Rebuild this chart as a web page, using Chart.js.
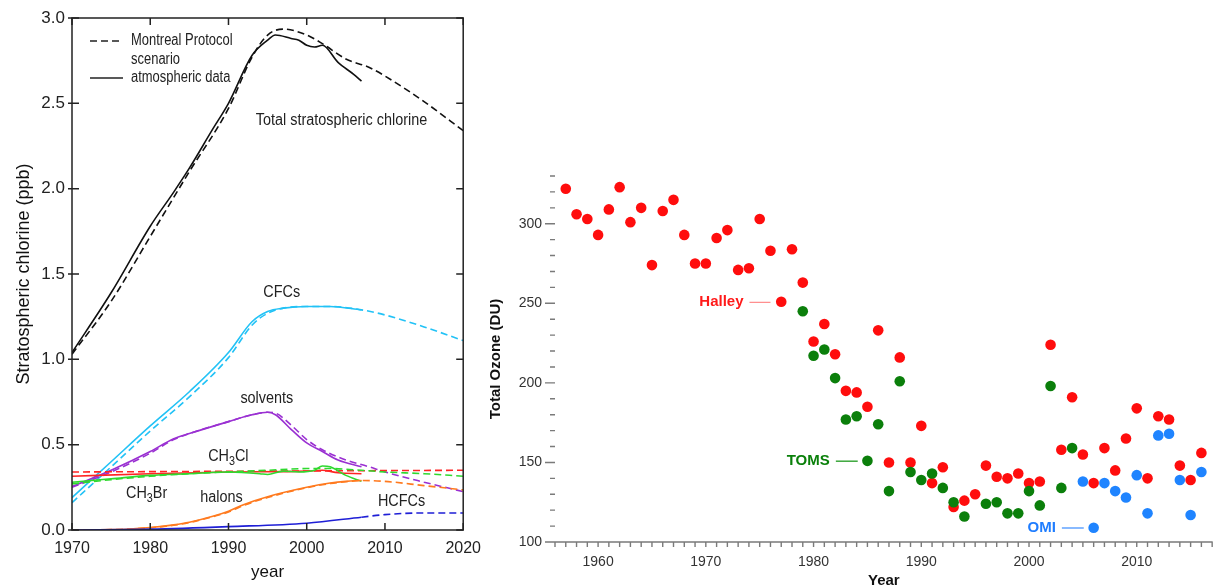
<!DOCTYPE html>
<html lang="en">
<head>
  <meta charset="UTF-8" />
  <title>Stratospheric chlorine and Antarctic ozone</title>
  <script src="https://cdn.jsdelivr.net/npm/chart.js"></script>
  <style>
    body {
      margin: 0;
      background: #ffffff;
      width: 1218px;
      height: 585px;
      overflow: hidden;
      position: relative;
    }
    #chlorine {
      position: absolute;
      left: 0;
      top: 0;
    }
    #ozone {
      position: absolute;
      left: 490px;
      top: 0;
    }
  </style>
</head>
<body>
  <canvas id="chlorine" width="490" height="585"></canvas>
  <canvas id="ozone" width="728" height="585"></canvas>

  <script>
    // ---- left panel: stratospheric chlorine (ppb), [year, value] ----
    const totalScenario = [[1970, 1.03], [1975, 1.34], [1980, 1.72], [1985, 2.10], [1990, 2.47], [1993, 2.77],
      [1995, 2.90], [1997, 2.935], [2000, 2.90], [2002, 2.85], [2005, 2.76], [2008, 2.71], [2010, 2.66],
      [2015, 2.51], [2020, 2.34]];
    const totalObserved = [[1970, 1.04], [1975, 1.39], [1980, 1.78], [1983, 1.98], [1985, 2.12], [1988, 2.35],
      [1990, 2.50], [1993, 2.78], [1995, 2.87], [1996, 2.90], [1998, 2.88], [1999, 2.87], [2000, 2.84],
      [2001, 2.83], [2002, 2.84], [2004, 2.74], [2006, 2.67], [2007, 2.63]];
    const cfcScenario = [[1970, 0.16], [1975, 0.37], [1980, 0.58], [1985, 0.78], [1990, 1.01], [1993, 1.20],
      [1995, 1.27], [1997, 1.30], [2000, 1.31], [2003, 1.31], [2007, 1.29], [2010, 1.26], [2015, 1.19], [2020, 1.11]];
    const cfcObserved = [[1970, 0.19], [1975, 0.40], [1980, 0.61], [1985, 0.81], [1990, 1.04], [1993, 1.22],
      [1995, 1.28], [1997, 1.30], [2000, 1.31], [2003, 1.31], [2007, 1.29]];
    const solventScenario = [[1970, 0.25], [1975, 0.34], [1980, 0.45], [1983, 0.53], [1985, 0.565], [1990, 0.635],
      [1993, 0.675], [1995, 0.69], [1996, 0.685], [1998, 0.615], [2000, 0.53], [2002, 0.47], [2005, 0.41],
      [2008, 0.37], [2010, 0.34], [2015, 0.28], [2020, 0.225]];
    const solventObserved = [[1970, 0.255], [1975, 0.35], [1980, 0.46], [1983, 0.535], [1985, 0.565], [1990, 0.635],
      [1993, 0.675], [1995, 0.69], [1996, 0.675], [1998, 0.59], [2000, 0.51], [2002, 0.46], [2004, 0.41], [2007, 0.37]];
    const ch3clScenario = [[1970, 0.34], [2020, 0.35]];
    const ch3clObserved = [[1970, 0.315], [1980, 0.33], [1990, 0.34], [2000, 0.345], [2002, 0.35], [2004, 0.335], [2007, 0.33]];
    const ch3brScenario = [[1970, 0.27], [1975, 0.295], [1980, 0.315], [1985, 0.33], [1990, 0.34], [1995, 0.35],
      [2000, 0.36], [2003, 0.36], [2007, 0.35], [2010, 0.34], [2015, 0.33], [2020, 0.315]];
    const ch3brObserved = [[1970, 0.28], [1975, 0.30], [1980, 0.32], [1985, 0.33], [1990, 0.34], [1994, 0.33],
      [1995, 0.325], [1997, 0.345], [1999, 0.34], [2001, 0.35], [2002, 0.375], [2003, 0.37], [2005, 0.32], [2007, 0.285]];
    const halonScenario = [[1970, 0], [1975, 0.002], [1980, 0.013], [1983, 0.028], [1985, 0.043], [1988, 0.078],
      [1990, 0.105], [1992, 0.145], [1995, 0.19], [2000, 0.248], [2003, 0.272], [2005, 0.283], [2007, 0.29],
      [2010, 0.285], [2015, 0.26], [2020, 0.235]];
    const halonObserved = [[1970, 0], [1975, 0.002], [1980, 0.015], [1983, 0.03], [1985, 0.045], [1988, 0.08],
      [1990, 0.11], [1992, 0.15], [1995, 0.195], [2000, 0.25], [2003, 0.275], [2005, 0.285], [2007, 0.29]];
    const hcfcScenario = [[2007, 0.075], [2010, 0.09], [2015, 0.10], [2020, 0.10]];
    const hcfcObserved = [[1970, 0], [1980, 0.005], [1990, 0.02], [2000, 0.04], [2007, 0.075]];

    const chlorineYearTicks = [1970, 1980, 1990, 2000, 2010, 2020];
    const chlorineValueTicks = [0, 0.5, 1.0, 1.5, 2.0, 2.5, 3.0];

    // ---- right panel: Antarctic October total ozone (DU) ----
    const halleyYears = [1957, 1958, 1959, 1960, 1961, 1962, 1963, 1964, 1965, 1966, 1967, 1968, 1969, 1970,
      1971, 1972, 1973, 1974, 1975, 1976, 1977, 1978, 1979, 1980, 1981, 1982, 1983, 1984, 1985, 1986, 1987,
      1988, 1989, 1990, 1991, 1992, 1993, 1994, 1995, 1996, 1997, 1998, 1999, 2000, 2001, 2002, 2003, 2004,
      2005, 2006, 2007, 2008, 2009, 2010, 2011, 2012, 2013, 2014, 2015, 2016];
    const halleyOzone = [322, 306, 303, 293, 309, 323, 301, 310, 274, 308, 315, 293, 275, 275,
      291, 296, 271, 272, 303, 283, 251, 284, 263, 226, 237, 218, 195, 194, 185, 233, 150,
      216, 150, 173, 137, 147, 122, 126, 130, 148, 141, 140, 143, 137, 138, 224, 158, 191,
      155, 137, 159, 145, 165, 184, 140, 179, 177, 148, 139, 156];
    const tomsYears = [1979, 1980, 1981, 1982, 1983, 1984, 1985, 1986, 1987, 1988, 1989, 1990, 1991, 1992,
      1993, 1994, 1996, 1997, 1998, 1999, 2000, 2001, 2002, 2003, 2004];
    const tomsOzone = [245, 217, 221, 203, 177, 179, 151, 174, 132, 201, 144, 139, 143, 134,
      125, 116, 124, 125, 118, 118, 132, 123, 198, 134, 159];
    const omiYears = [2005, 2006, 2007, 2008, 2009, 2010, 2011, 2012, 2013, 2014, 2015, 2016];
    const omiOzone = [138, 109, 137, 132, 128, 142, 118, 167, 168, 139, 117, 144];

    const ozoneMajorTicks = [100, 150, 200, 250, 300];
    const ozoneYearTicks = [1960, 1970, 1980, 1990, 2000, 2010];

    const sans = '"Liberation Sans", Arial, sans-serif';

    const pts = arr => arr.map(p => ({ x: p[0], y: p[1] }));

    function series(data, color, dashed, width) {
      return {
        data: pts(data),
        borderColor: color,
        borderWidth: width || 1.6,
        borderDash: dashed ? [7, 4] : [],
        pointRadius: 0,
        fill: false,
        cubicInterpolationMode: "monotone"
      };
    }

    // text labels placed in data units on the chlorine chart
    const chlorineLabels = [
      { parts: ["Total stratospheric chlorine"], x: 1993.5, y: 2.40, align: "left" },
      { parts: ["CFCs"], x: 1996.8, y: 1.39, align: "center" },
      { parts: ["solvents"], x: 1994.9, y: 0.77, align: "center" },
      { parts: ["CH", "3", "Cl"], x: 1987.4, y: 0.43, align: "left" },
      { parts: ["CH", "3", "Br"], x: 1976.9, y: 0.215, align: "left" },
      { parts: ["halons"], x: 1986.4, y: 0.19, align: "left" },
      { parts: ["HCFCs"], x: 2009.1, y: 0.165, align: "left" }
    ];

    // the source figure uses a condensed face, so squeeze the text horizontally
    function drawParts(ctx, parts, px, py, align, squeeze) {
      const big = "16px " + sans, small = "12px " + sans;
      let w = 0;
      parts.forEach((t, i) => { ctx.font = i % 2 ? small : big; w += ctx.measureText(t).width; });
      ctx.save();
      ctx.translate(px, py);
      ctx.scale(squeeze, 1);
      let cx = align === "center" ? -w / 2 : 0;
      ctx.textAlign = "left";
      ctx.textBaseline = "middle";
      parts.forEach((t, i) => {
        ctx.font = i % 2 ? small : big;
        ctx.fillText(t, cx, i % 2 ? 5 : 0);
        cx += ctx.measureText(t).width;
      });
      ctx.restore();
    }

    const chlorineFrame = {
      id: "chlorineFrame",
      afterDraw(chart) {
        const { ctx, chartArea: a, scales: { x, y } } = chart;
        ctx.save();
        ctx.strokeStyle = "#222";
        ctx.lineWidth = 1.5;
        ctx.strokeRect(a.left, a.top, a.right - a.left, a.bottom - a.top);
        ctx.beginPath();
        chlorineYearTicks.forEach(v => {
          const px = x.getPixelForValue(v);
          ctx.moveTo(px, a.bottom); ctx.lineTo(px, a.bottom - 7);
          ctx.moveTo(px, a.top); ctx.lineTo(px, a.top + 7);
        });
        chlorineValueTicks.forEach(v => {
          const py = y.getPixelForValue(v);
          ctx.moveTo(a.left - 4, py); ctx.lineTo(a.left + 7, py);
          ctx.moveTo(a.right, py); ctx.lineTo(a.right - 7, py);
        });
        ctx.stroke();

        // legend
        ctx.lineWidth = 1.6;
        ctx.setLineDash([7, 4]);
        ctx.beginPath();
        ctx.moveTo(a.left + 18, a.top + 23); ctx.lineTo(a.left + 51, a.top + 23);
        ctx.stroke();
        ctx.setLineDash([]);
        ctx.beginPath();
        ctx.moveTo(a.left + 18, a.top + 60); ctx.lineTo(a.left + 51, a.top + 60);
        ctx.stroke();
        ctx.fillStyle = "#222";
        drawParts(ctx, ["Montreal Protocol"], a.left + 59, a.top + 23, "left", 0.81);
        drawParts(ctx, ["scenario"], a.left + 59, a.top + 42, "left", 0.81);
        drawParts(ctx, ["atmospheric data"], a.left + 59, a.top + 60, "left", 0.81);

        chlorineLabels.forEach(l => {
          drawParts(ctx, l.parts, x.getPixelForValue(l.x), y.getPixelForValue(l.y), l.align, 0.9);
        });
        ctx.restore();
      }
    };

    new Chart(document.getElementById("chlorine"), {
      type: "line",
      data: {
        datasets: [
          series(hcfcScenario, "#1f1fd6", true),
          series(hcfcObserved, "#1f1fd6", false),
          series(halonScenario, "#ff7a1f", true),
          series(halonObserved, "#ff7a1f", false),
          series(ch3brScenario, "#2fd92f", true),
          series(ch3brObserved, "#2fd92f", false),
          series(ch3clScenario, "#ff2424", true),
          series(ch3clObserved, "#ff2424", false),
          series(solventScenario, "#9a30d2", true),
          series(solventObserved, "#9a30d2", false),
          series(cfcScenario, "#22c2f6", true),
          series(cfcObserved, "#22c2f6", false),
          series(totalScenario, "#111", true),
          series(totalObserved, "#111", false)
        ]
      },
      options: {
        responsive: false,
        animation: false,
        devicePixelRatio: 1,
        events: [],
        layout: { padding: { top: 18, right: 22, left: 0, bottom: 0 } },
        plugins: { legend: { display: false }, tooltip: { enabled: false } },
        scales: {
          x: {
            type: "linear",
            min: 1970,
            max: 2020,
            afterBuildTicks: s => { s.ticks = chlorineYearTicks.map(v => ({ value: v })); },
            ticks: { callback: v => String(v), font: { family: sans, size: 16 }, color: "#222", padding: 9, maxRotation: 0 },
            grid: { display: false, drawTicks: false },
            border: { display: false },
            title: { display: true, text: "year", font: { family: sans, size: 17 }, color: "#111", padding: { top: 0, bottom: 2 } },
            afterFit: s => { s.height = 55; }
          },
          y: {
            min: 0,
            max: 3,
            afterBuildTicks: s => { s.ticks = chlorineValueTicks.map(v => ({ value: v })); },
            ticks: { callback: v => v.toFixed(1), font: { family: sans, size: 17 }, color: "#222", padding: 7 },
            grid: { display: false, drawTicks: false },
            border: { display: false },
            title: { display: true, text: "Stratospheric chlorine (ppb)", font: { family: sans, size: 18 }, color: "#111", padding: { top: 13, bottom: 0 } },
            afterFit: s => { s.width = 72; }
          }
        }
      },
      plugins: [chlorineFrame]
    });

    // ---- ozone panel ----
    const ozoneLabels = [
      { text: "Halley", color: "#ff1a1a", lineColor: "#ff8a8a", x: 1973.5, y: 250.6, from: 1974.05, to: 1976.0 },
      { text: "TOMS", color: "#0a800a", lineColor: "#0a900a", x: 1981.5, y: 150.8, from: 1982.07, to: 1984.1 },
      { text: "OMI", color: "#1f7dff", lineColor: "#3a8cff", x: 2002.5, y: 108.8, from: 2003.05, to: 2005.08 }
    ];

    const ozoneAxes = {
      id: "ozoneAxes",
      beforeDatasetsDraw(chart) {
        const { ctx, chartArea: a, scales: { x, y } } = chart;
        ctx.save();
        ctx.strokeStyle = "#7a7a7a";
        ctx.lineWidth = 1.4;
        ctx.beginPath();
        ctx.moveTo(a.left - 10, a.bottom); ctx.lineTo(a.right, a.bottom);
        for (let v = 1956; v <= 2017; v++) {
          const px = x.getPixelForValue(v);
          ctx.moveTo(px, a.bottom); ctx.lineTo(px, a.bottom + 5);
        }
        for (let v = y.min; v <= y.max; v += 10) {
          const py = y.getPixelForValue(v);
          ctx.moveTo(a.left - (v % 50 === 0 ? 10 : 5), py); ctx.lineTo(a.left, py);
        }
        ctx.stroke();

        ctx.font = "bold 15px " + sans;
        ctx.textBaseline = "middle";
        ctx.textAlign = "right";
        ozoneLabels.forEach(l => {
          const py = y.getPixelForValue(l.y);
          ctx.fillStyle = l.color;
          ctx.fillText(l.text, x.getPixelForValue(l.x), py);
          ctx.strokeStyle = l.lineColor;
          ctx.lineWidth = 1.2;
          ctx.beginPath();
          ctx.moveTo(x.getPixelForValue(l.from), py); ctx.lineTo(x.getPixelForValue(l.to), py);
          ctx.stroke();
        });
        ctx.restore();
      }
    };

    const toXY = (xs, ys) => xs.map((v, i) => ({ x: v, y: ys[i] }));

    new Chart(document.getElementById("ozone"), {
      type: "scatter",
      data: {
        datasets: [
          { label: "TOMS", data: toXY(tomsYears, tomsOzone), backgroundColor: "#0b7f0b" },
          { label: "OMI", data: toXY(omiYears, omiOzone), backgroundColor: "#1f84ff" },
          { label: "Halley", data: toXY(halleyYears, halleyOzone), backgroundColor: "#ff0d0d" }
        ]
      },
      options: {
        responsive: false,
        animation: false,
        devicePixelRatio: 1,
        events: [],
        clip: false,
        layout: { padding: { top: 176, right: 0, left: 0, bottom: 0 } },
        elements: { point: { radius: 5.3, borderWidth: 0 } },
        plugins: { legend: { display: false }, tooltip: { enabled: false } },
        scales: {
          x: {
            type: "linear",
            min: 1956,
            max: 2017.05,
            afterBuildTicks: s => { s.ticks = ozoneYearTicks.map(v => ({ value: v })); },
            ticks: { callback: v => String(v), font: { family: sans, size: 14 }, color: "#333", padding: 12, maxRotation: 0 },
            grid: { display: false, drawTicks: false },
            border: { display: false },
            title: { display: true, text: "Year", font: { family: sans, size: 15, weight: "bold", lineHeight: 0.6 }, color: "#111", padding: { top: 0, bottom: 0 } },
            afterFit: s => { s.height = 43; }
          },
          y: {
            min: 100,
            max: 330,
            afterBuildTicks: s => { s.ticks = ozoneMajorTicks.map(v => ({ value: v })); },
            ticks: { font: { family: sans, size: 14 }, color: "#333", padding: 13 },
            grid: { display: false, drawTicks: false },
            border: { display: false },
            title: { display: true, text: "Total Ozone (DU)", font: { family: sans, size: 15, weight: "bold", lineHeight: 0.8 }, color: "#111", padding: { top: 0, bottom: 0 } },
            afterFit: s => { s.width = 65; }
          }
        }
      },
      plugins: [ozoneAxes]
    });
  </script>
</body>
</html>
